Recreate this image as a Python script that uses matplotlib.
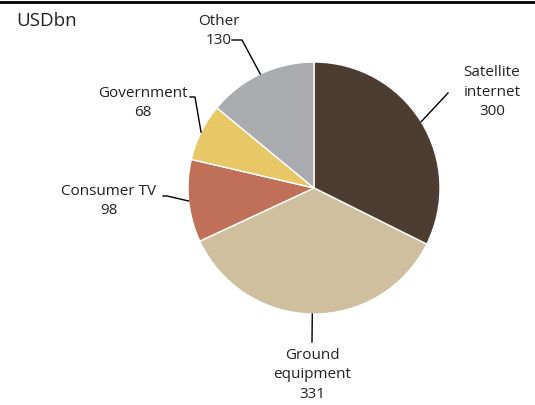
import matplotlib.pyplot as plt
import numpy as np

plt.rcParams['font.family'] = ['Open Sans', 'DejaVu Sans']

labels = ['Satellite\ninternet', 'Ground\nequipment', 'Consumer TV', 'Government', 'Other']
values = [300, 331, 98, 68, 130]
colors = ['#4d3d31', '#cfbf9e', '#c07058', '#e8c766', '#aaabaf']

W, H = 535, 405
fig = plt.figure(figsize=(W / 100, H / 100), dpi=100)
ax = fig.add_axes([0, 0, 1, 1])

cx, cy, r = 314, H - 188, 126
wedges, _ = ax.pie(values, colors=colors, startangle=90, counterclock=False,
                   center=(cx, cy), radius=r, frame=True,
                   wedgeprops=dict(edgecolor='white', linewidth=1))
ax.set_xlim(0, W)
ax.set_ylim(0, H)
ax.set_aspect('equal')
ax.axis('off')

# label text position and elbow point(s) of the leader (pixel coords, y down)
layout = [
    ((492, 92), [(448, 93)]),
    ((312, 375), [(312, 342)]),
    ((109, 201), [(163, 196), (167, 196)]),
    ((143, 103), [(190, 97), (195, 97)]),
    ((219, 31), [(232, 40), (242, 40)]),
]

for w, lab, v, (tpos, pts) in zip(wedges, labels, values, layout):
    mid = np.deg2rad((w.theta1 + w.theta2) / 2)
    ex, ey = cx + r * np.cos(mid), cy + r * np.sin(mid)
    xs = [p[0] for p in pts] + [ex]
    ys = [H - p[1] for p in pts] + [ey]
    ax.plot(xs, ys, color='black', lw=1)
    ax.text(tpos[0], H - tpos[1], f'{lab}\n{v}', ha='center', va='center',
            fontsize=11, color='#222222', linespacing=1.4)

ax.text(16, H - 21, 'USDbn', fontsize=13.5, va='center', ha='left', color='#222222')
ax.plot([0, W], [H - 2, H - 2], color='black', lw=2, clip_on=False)

fig.savefig('out.png', dpi=100)
